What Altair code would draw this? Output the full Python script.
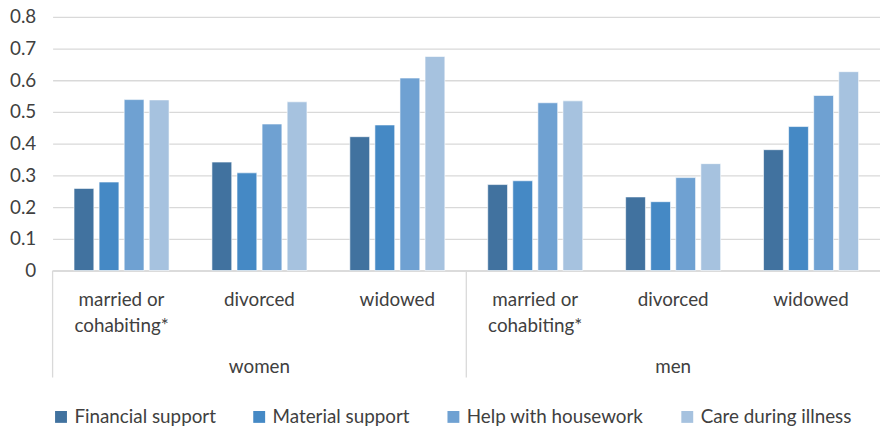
import altair as alt
import pandas as pd

genders = ["women", "men"]
statuses = ["married or cohabiting*", "divorced", "widowed"]
supports = ["Financial support", "Material support", "Help with housework", "Care during illness"]
colors = ["#41729f", "#4589c5", "#6fa1d2", "#a6c2df"]

# values per support type, order: women (married, divorced, widowed), men (married, divorced, widowed)
financial = [0.259, 0.342, 0.422, 0.271, 0.232, 0.381]
material = [0.279, 0.308, 0.459, 0.283, 0.217, 0.454]
housework = [0.539, 0.462, 0.607, 0.529, 0.293, 0.552]
illness = [0.538, 0.532, 0.675, 0.535, 0.337, 0.627]

series = [financial, material, housework, illness]
cats = [f"{g}|{s}" for g in genders for s in statuses]

rows = []
for sup, vals in zip(supports, series):
    for c, v in zip(cats, vals):
        rows.append({"cat": c, "support": sup, "value": v})
df = pd.DataFrame(rows)

sep_df = pd.DataFrame({"cat": [f"{g}|{statuses[0]}" for g in genders]})
gender_df = pd.DataFrame({"cat": [f"{g}|{statuses[1]}" for g in genders], "g": genders})

FONT = "Lato"
FS = 19
TXT = "#404040"
W, H = 835, 256

xscale = alt.Scale(domain=cats, paddingInner=0, paddingOuter=0)

label_expr = ("split(datum.label, '|')[1] == 'married or cohabiting*' ? "
              "['married or', 'cohabiting*'] : split(datum.label, '|')[1]")

bars = alt.Chart(df).mark_bar(stroke="white", strokeWidth=0.6).encode(
    x=alt.X("cat:N", scale=xscale, sort=cats,
            axis=alt.Axis(title=None, labelAngle=0, labelExpr=label_expr, ticks=False,
                          domainColor="#d9d9d9", domainWidth=1.3, labelPadding=20,
                          labelLineHeight=26.5, labelFontSize=FS, labelFont=FONT,
                          labelColor=TXT, grid=False)),
    xOffset=alt.XOffset("support:N", sort=supports,
                        scale=alt.Scale(domain=supports, paddingInner=0.21, paddingOuter=0.855)),
    y=alt.Y("value:Q", scale=alt.Scale(domain=[0, 0.8]),
            axis=alt.Axis(title=None, values=[0, 0.1, 0.2, 0.3, 0.4, 0.5, 0.6, 0.7, 0.8],
                          format=".1~f", domain=False, ticks=False, labelPadding=17,
                          labelFontSize=FS, labelFont=FONT, labelColor=TXT,
                          gridColor="#d9d9d9", gridWidth=1.3)),
    color=alt.Color("support:N", sort=supports,
                    scale=alt.Scale(domain=supports, range=colors),
                    legend=alt.Legend(title=None, orient="none", direction="horizontal",
                                      legendX=-1, legendY=394, symbolType="square",
                                      symbolSize=144, symbolStrokeWidth=0,
                                      labelFontSize=FS, labelFont=FONT, labelColor=TXT,
                                      labelLimit=400,
                                      labelOffset=4, columnPadding=34, padding=0)),
)

seps = alt.Chart(sep_df).mark_rule(color="#d9d9d9", strokeWidth=1.3).encode(
    x=alt.X("cat:N", scale=xscale, sort=cats, bandPosition=0),
    y=alt.value(H),
    y2=alt.value(H + 108),
)

glabels = alt.Chart(gender_df).mark_text(font=FONT, fontSize=FS, color=TXT, baseline="middle").encode(
    x=alt.X("cat:N", scale=xscale, sort=cats, bandPosition=0.5),
    y=alt.value(H + 97),
    text="g:N",
)

chart = alt.layer(bars, seps, glabels).properties(
    width=W, height=H,
    padding={"left": 45, "top": 7, "right": 0, "bottom": 155},
    autosize="none",
).configure_view(stroke=None)

chart.save("out.html", embed_options={"renderer": "svg", "actions": False})
